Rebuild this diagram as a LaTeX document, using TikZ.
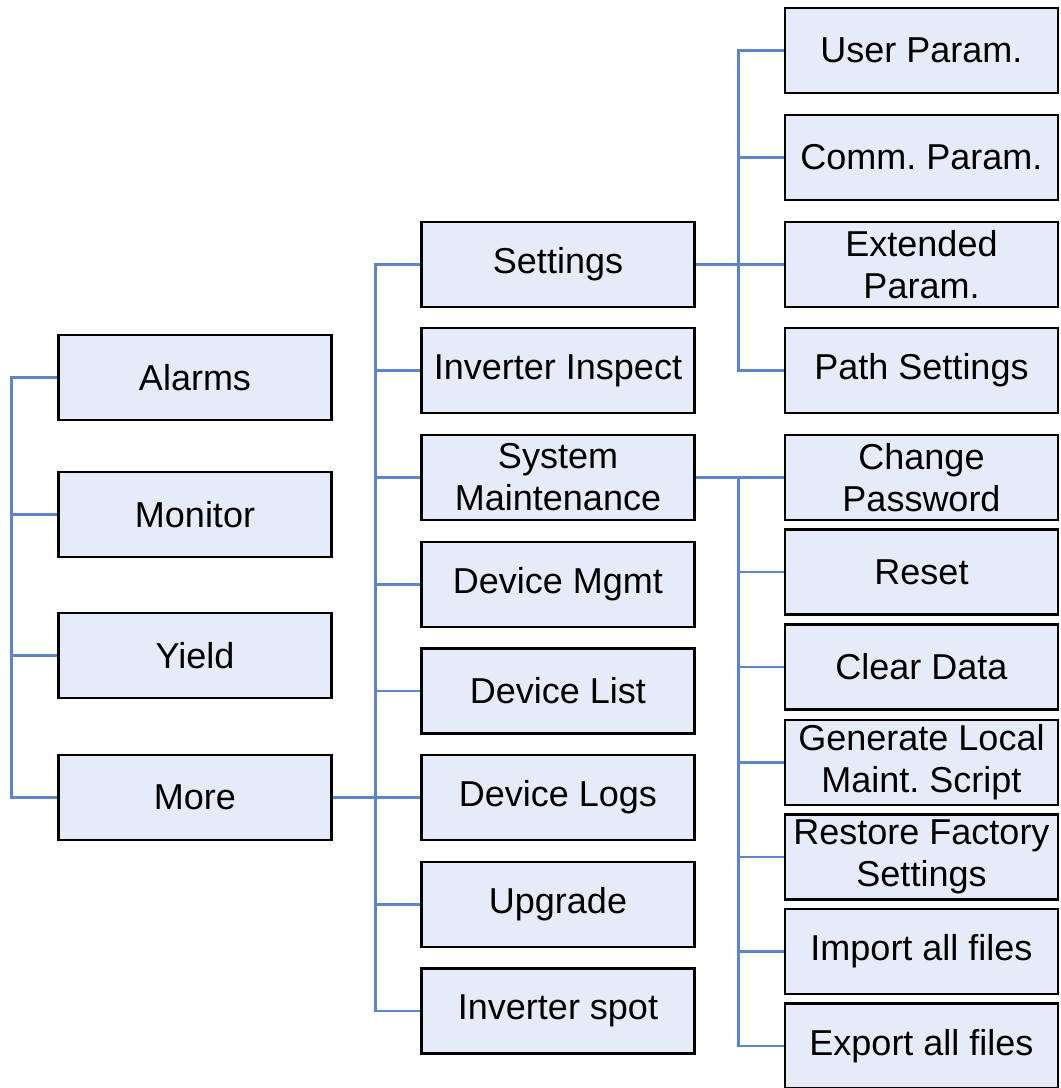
\documentclass[tikz,border=0pt]{standalone}
\usepackage{fontspec}
\setmainfont{Liberation Sans}
\frenchspacing
\definecolor{boxfill}{RGB}{230,236,247}
\definecolor{linkblue}{RGB}{94,134,198}
\begin{document}
\begin{tikzpicture}[x=1pt,y=-1pt,
  menubox/.style={draw=black, line width=2.5pt, fill=boxfill, minimum width=273pt, minimum height=85pt, inner sep=0pt, align=center, font=\fontsize{36}{42}\selectfont\frenchspacing},
  conn/.style={draw=linkblue, line width=2.6pt}]
\useasboundingbox (0,0) rectangle (1061,1088);
% left column
\node[menubox] (alarms)  at (195,377.5) {Alarms};
\node[menubox] (monitor) at (195,514.5) {Monitor};
\node[menubox] (yield)   at (195,655.5) {Yield};
\node[menubox] (more)    at (195,797.5) {More};
% middle column
\node[menubox] (settings) at (558,264.5) {Settings};
\node[menubox] (inspect)  at (558,370.5) {Inverter Inspect};
\node[menubox] (sysm)     at (558,477.5) {System\\Maintenance};
\node[menubox] (mgmt)     at (558,584.5) {Device Mgmt};
\node[menubox] (dlist)    at (558,691) {Device List};
\node[menubox] (logs)     at (558,797.5) {Device Logs};
\node[menubox] (upgrade)  at (558,904.5) {Upgrade};
\node[menubox] (spot)     at (558,1011) {Inverter spot};
% right column
\node[menubox] (user)     at (921.5,50.5) {User Param.};
\node[menubox] (comm)     at (921.5,157.5) {Comm. Param.};
\node[menubox] (ext)      at (921.5,264.5) {Extended\\Param.};
\node[menubox] (path)     at (921.5,370.5) {Path Settings};
\node[menubox] (chpw)     at (921.5,477.5) {Change\\Password};
\node[menubox] (reset)    at (921.5,572) {Reset};
\node[menubox] (clear)    at (921.5,667) {Clear Data};
\node[menubox] (gen)      at (921.5,762.5) {Generate Local\\Maint. Script};
\node[menubox] (restore)  at (921.5,857) {Restore Factory\\Settings};
\node[menubox] (import)   at (921.5,951.5) {Import all files};
\node[menubox] (export)   at (921.5,1046) {Export all files};
% connectors: left
\draw[conn] (alarms.west) -- ++(-46,0) |- (more.west);
\draw[conn] (monitor.west) -- ++(-46,0);
\draw[conn] (yield.west) -- ++(-46,0);
% middle
\draw[conn] (more.east) -- (logs.west);
\draw[conn] (settings.west) -- ++(-45,0) |- (spot.west);
\foreach \n in {inspect,sysm,mgmt,dlist,upgrade} \draw[conn] (\n.west) -- ++(-45,0);
% right upper
\draw[conn] (settings.east) -- (ext.west);
\draw[conn] (user.west) -- ++(-45,0) |- (path.west);
\draw[conn] (comm.west) -- ++(-45,0);
% right lower
\draw[conn] (sysm.east) -- (chpw.west);
\draw[conn] (chpw.west) -- ++(-45,0) |- (export.west);
\foreach \n in {reset,clear,gen,restore,import} \draw[conn] (\n.west) -- ++(-45,0);
\end{tikzpicture}
\end{document}
